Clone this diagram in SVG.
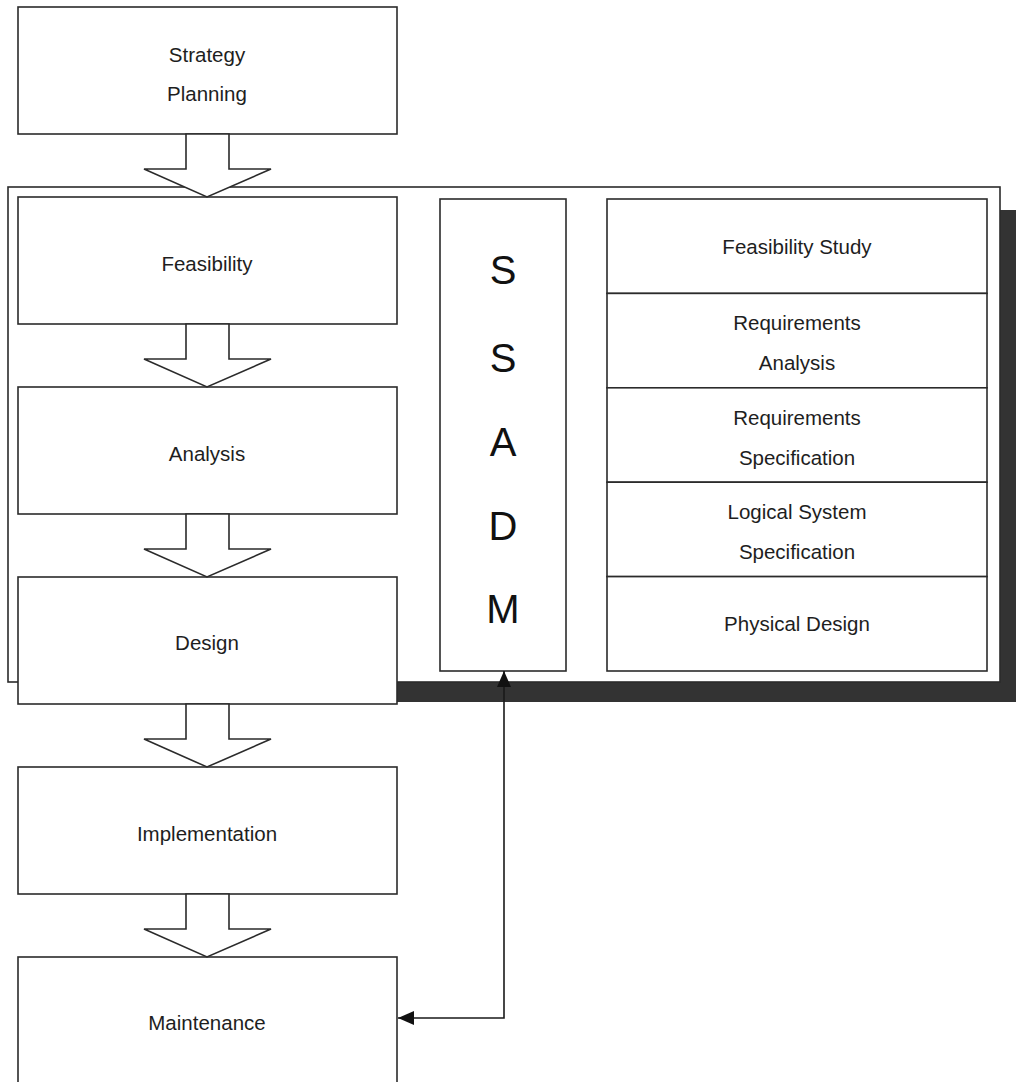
<svg xmlns="http://www.w3.org/2000/svg" width="1016" height="1082" viewBox="0 0 1016 1082">
<defs>
<style>
.box{fill:#fff;stroke:#2b2b2b;stroke-width:1.6}
.lbl{font-family:"Liberation Sans",Arial,sans-serif;font-size:20.5px;fill:#1e1e1e;text-anchor:middle}
.big{font-family:"Liberation Sans",Arial,sans-serif;font-size:40px;fill:#111;text-anchor:middle}
.flow{fill:#fff;stroke:#2b2b2b;stroke-width:1.6;stroke-linejoin:miter}
.conn{fill:none;stroke:#1a1a1a;stroke-width:1.6}
</style>
<marker id="ah" markerUnits="userSpaceOnUse" markerWidth="16" markerHeight="14" refX="16" refY="7" orient="auto-start-reverse" viewBox="0 0 16 14">
<path d="M0,0 L16,7 L0,14 z" fill="#111"/>
</marker>
</defs>
<rect width="1016" height="1082" fill="#fff"/>

<!-- SSADM frame with shadow -->
<g id="ssadm-frame">
<rect x="30" y="210" width="990" height="492" fill="#333"/>
<rect x="8" y="187" width="992" height="495" class="box"/>
</g>

<g id="ssadm">
<rect x="440" y="199" width="126" height="472" class="box"/>
<text class="big" x="503" y="284">S</text>
<text class="big" x="503" y="372">S</text>
<text class="big" x="503" y="456">A</text>
<text class="big" x="503" y="540">D</text>
<text class="big" x="503" y="623">M</text>
</g>

<g id="feasibility-study">
<rect x="607" y="199" width="380" height="94.4" class="box"/>
<text class="lbl" x="797" y="253.5">Feasibility Study</text>
</g>
<g id="requirements-analysis">
<rect x="607" y="293.4" width="380" height="94.4" class="box"/>
<text class="lbl" x="797" y="330">Requirements</text>
<text class="lbl" x="797" y="370">Analysis</text>
</g>
<g id="requirements-specification">
<rect x="607" y="387.8" width="380" height="94.4" class="box"/>
<text class="lbl" x="797" y="425">Requirements</text>
<text class="lbl" x="797" y="465">Specification</text>
</g>
<g id="logical-system-specification">
<rect x="607" y="482.2" width="380" height="94.4" class="box"/>
<text class="lbl" x="797" y="519">Logical System</text>
<text class="lbl" x="797" y="559">Specification</text>
</g>
<g id="physical-design">
<rect x="607" y="576.6" width="380" height="94.4" class="box"/>
<text class="lbl" x="797" y="631">Physical Design</text>
</g>

<!-- left column -->
<g id="strategy-planning">
<rect x="18" y="7" width="379" height="127" class="box"/>
<text class="lbl" x="207" y="62">Strategy</text>
<text class="lbl" x="207" y="101">Planning</text>
</g>
<g id="feasibility">
<rect x="18" y="197" width="379" height="127" class="box"/>
<text class="lbl" x="207" y="271">Feasibility</text>
</g>
<g id="analysis">
<rect x="18" y="387" width="379" height="127" class="box"/>
<text class="lbl" x="207" y="461">Analysis</text>
</g>
<g id="design">
<rect x="18" y="577" width="379" height="127" class="box"/>
<text class="lbl" x="207" y="650">Design</text>
</g>
<g id="implementation">
<rect x="18" y="767" width="379" height="127" class="box"/>
<text class="lbl" x="207" y="841">Implementation</text>
</g>
<g id="maintenance">
<rect x="18" y="957" width="379" height="130" class="box"/>
<text class="lbl" x="207" y="1030">Maintenance</text>
</g>

<g id="connectors">
<polygon class="flow" points="186,134 186,169 144,169 207,197 271,169 229,169 229,134"/>
<polygon class="flow" points="186,324 186,359 144,359 207,387 271,359 229,359 229,324"/>
<polygon class="flow" points="186,514 186,549 144,549 207,577 271,549 229,549 229,514"/>
<polygon class="flow" points="186,704 186,739 144,739 207,767 271,739 229,739 229,704"/>
<polygon class="flow" points="186,894 186,929 144,929 207,957 271,929 229,929 229,894"/>
<path class="conn" d="M398,1018 L504,1018 L504,671" marker-start="url(#ah)" marker-end="url(#ah)"/>
</g>
</svg>
